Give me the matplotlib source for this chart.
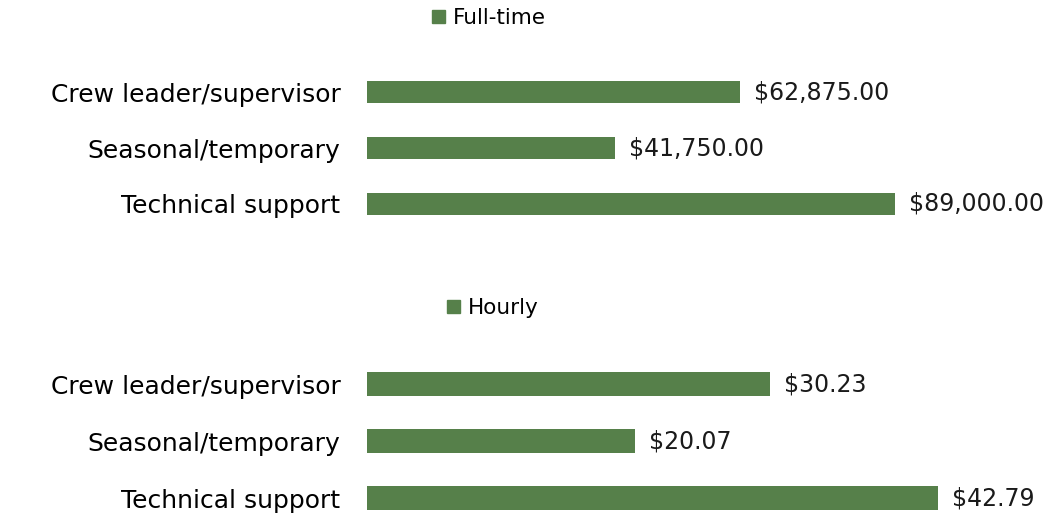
import matplotlib.pyplot as plt
from matplotlib.patches import Patch

plt.rcParams['font.family'] = ['DejaVu Sans']

roles = ["Crew leader/supervisor", "Seasonal/temporary", "Technical support"]
fulltime_pay = [62875.00, 41750.00, 89000.00]
hourly_pay = [30.23, 20.07, 42.79]

bar_color = "#56804A"
W, H = 1064, 517

fig = plt.figure(figsize=(W / 100, H / 100), dpi=100)


def px_axes(left, top, width, height):
    # axes placed in pixel units measured from the top-left corner
    return fig.add_axes([left / W, 1 - (top + height) / H, width / W, height / H])


def panel(ax, values, fmt, bar_px, bar_h, ylim, legend_label, legend_xy):
    y = range(len(roles))
    ax.barh(y, values, height=bar_h, color=bar_color)
    width_px = ax.get_position().width * W
    ax.set_xlim(0, max(values) * width_px / bar_px)
    ax.set_ylim(*ylim)
    ax.set_yticks(list(y))
    ax.set_yticklabels(roles, fontsize=18)
    ax.tick_params(axis="y", length=0, pad=19)
    ax.set_xticks([])
    for s in ax.spines.values():
        s.set_visible(False)
    for yi, v in zip(y, values):
        ax.annotate(fmt.format(v), (v, yi), xytext=(10, 0), textcoords="offset points",
                    va="center", ha="left", fontsize=17, color="#1a1a1a")
    fig.legend(handles=[Patch(color=bar_color, label=legend_label)],
               loc="center left", bbox_to_anchor=(legend_xy[0] / W, 1 - legend_xy[1] / H),
               frameon=False, fontsize=15.5, handlelength=0.6, handleheight=0.6,
               handletextpad=0.35, borderpad=0, borderaxespad=0)


ax1 = px_axes(367, 64, 690, 168)
panel(ax1, fulltime_pay, "${:,.2f}", 528, 0.39, (2.5, -0.5), "Full-time", (432, 18))

ax2 = px_axes(367, 356, 690, 161)
panel(ax2, hourly_pay, "${:,.2f}", 571, 0.42, (2.333, -0.5), "Hourly", (447, 308))

fig.savefig("out.png", dpi=100)
